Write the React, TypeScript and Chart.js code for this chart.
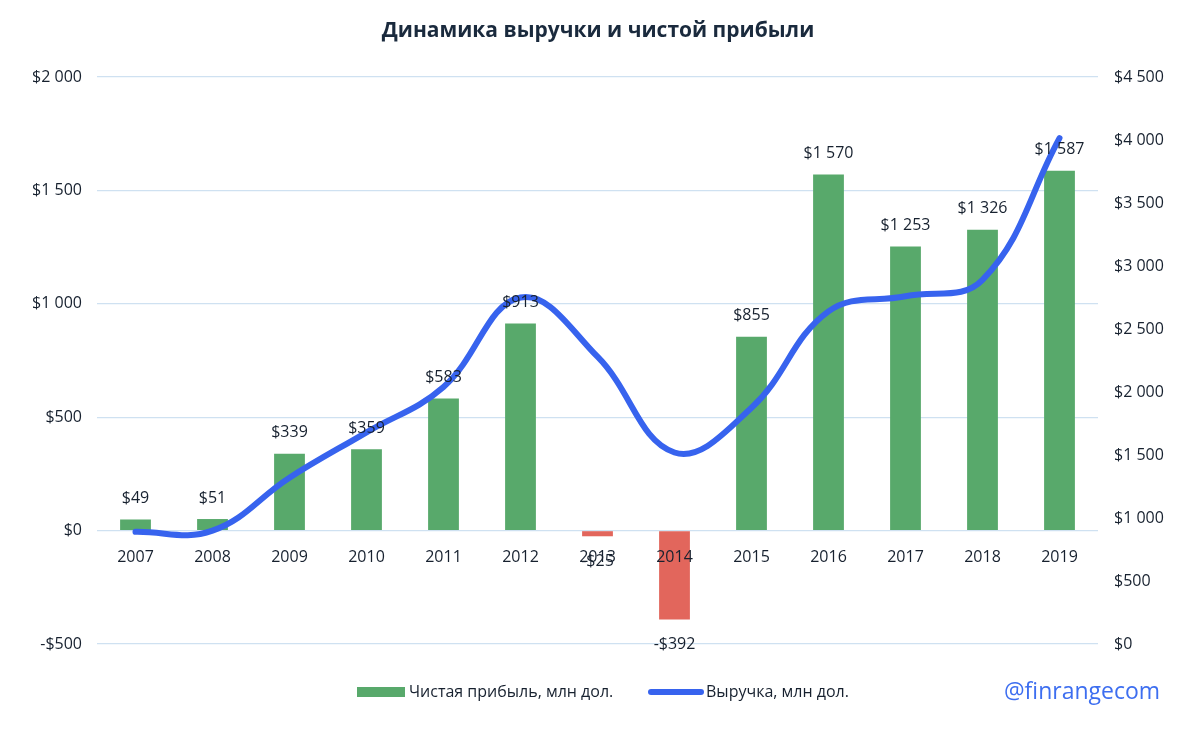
import React, { useEffect, useRef } from 'react';
import { Chart, registerables } from 'chart.js';

Chart.register(...registerables);

const years = ['2007', '2008', '2009', '2010', '2011', '2012', '2013', '2014', '2015', '2016', '2017', '2018', '2019'];
const netIncome = [49, 51, 339, 359, 583, 913, -25, -392, 855, 1570, 1253, 1326, 1587];
const revenue = [890, 900, 1320, 1680, 2040, 2750, 2280, 1520, 1875, 2640, 2760, 2890, 4015];
const leftTicks = [-500, 0, 500, 1000, 1500, 2000];
const rightTicks = [0, 500, 1000, 1500, 2000, 2500, 3000, 3500, 4000, 4500];
const titleText = 'Динамика выручки и чистой прибыли';
const netIncomeLabel = 'Чистая прибыль, млн дол.';
const revenueLabel = 'Выручка, млн дол.';
const watermark = '@finrangecom';

const GREEN = '#58a96b';
const RED = '#e2665c';
const BLUE = '#3763ee';
const GRID = '#cfe1f1';
const TEXT = '#17212f';
const FONT = '"Open Sans", "Noto Sans", sans-serif';

function fmt(v: number): string {
  const s = Math.abs(v).toString().replace(/\B(?=(\d{3})+(?!\d))/g, ' ');
  return (v < 0 ? '-' : '') + '$' + s;
}

const labelsPlugin = {
  id: 'barLabels',
  afterDatasetsDraw(chart: any) {
    const ctx = chart.ctx;
    const meta = chart.getDatasetMeta(1);
    ctx.save();
    ctx.font = '16px ' + FONT;
    ctx.fillStyle = TEXT;
    ctx.textAlign = 'center';
    ctx.textBaseline = 'middle';
    meta.data.forEach((el: any, i: number) => {
      const v = netIncome[i];
      const y = v >= 0 ? el.y - 21 : el.y + 25;
      ctx.fillText(fmt(v), el.x, y);
    });
    ctx.restore();
  },
  afterDraw(chart: any) {
    const ctx = chart.ctx;
    ctx.save();
    // title
    ctx.font = 'bold 21px ' + FONT;
    ctx.fillStyle = '#1a2a3d';
    ctx.textAlign = 'center';
    ctx.textBaseline = 'middle';
    ctx.fillText(titleText, 598, 31);
    // legend
    const ly = 692;
    ctx.fillStyle = GREEN;
    ctx.fillRect(357, ly - 5, 48, 10);
    ctx.font = '16px ' + FONT;
    ctx.fillStyle = TEXT;
    ctx.textAlign = 'left';
    ctx.fillText(netIncomeLabel, 409, ly);
    ctx.strokeStyle = BLUE;
    ctx.lineWidth = 6;
    ctx.lineCap = 'round';
    ctx.beginPath();
    ctx.moveTo(651, ly);
    ctx.lineTo(701, ly);
    ctx.stroke();
    ctx.fillText(revenueLabel, 706, ly);
    // watermark
    ctx.font = '500 23px ' + FONT;
    ctx.fillStyle = '#3d6ef0';
    ctx.fillText(watermark, 1004, ly);
    ctx.restore();
  },
};

export default function App() {
  const ref = useRef<HTMLCanvasElement | null>(null);
  useEffect(() => {
    if (!ref.current) return;
    const chart = new Chart(ref.current, {
      type: 'bar',
      data: {
        labels: years,
        datasets: [
          {
            type: 'line',
            label: revenueLabel,
            data: revenue,
            yAxisID: 'y1',
            borderColor: BLUE,
            backgroundColor: BLUE,
            borderWidth: 6,
            tension: 0.4,
            pointRadius: 0,
            borderCapStyle: 'round',
            fill: false,
            order: 0,
          } as any,
          {
            type: 'bar',
            label: netIncomeLabel,
            data: netIncome,
            yAxisID: 'y',
            backgroundColor: netIncome.map((v) => (v < 0 ? RED : GREEN)),
            barPercentage: 0.4,
            categoryPercentage: 1,
            order: 1,
          } as any,
        ],
      },
      options: {
        responsive: false,
        animation: false,
        layout: { padding: { top: 77, bottom: 90, left: 0, right: 0 } },
        plugins: {
          legend: { display: false },
          tooltip: { enabled: false },
          title: { display: false },
        },
        scales: {
          x: {
            position: { y: 0 } as any,
            grid: { display: false, drawTicks: false },
            border: { display: false },
            ticks: { z: 1, color: TEXT, font: { family: FONT, size: 16 }, padding: 17, maxRotation: 0 },
          },
          y: {
            position: 'left',
            min: -500,
            max: 2000,
            afterBuildTicks: (s: any) => {
              s.ticks = leftTicks.map((v) => ({ value: v }));
            },
            afterFit: (s: any) => {
              s.width = 97;
            },
            grid: { color: GRID, lineWidth: 1.2, drawTicks: false },
            border: { display: false },
            ticks: { color: TEXT, font: { family: FONT, size: 16 }, padding: 15, callback: (v: any) => fmt(Number(v)) },
          },
          y1: {
            position: 'right',
            min: 0,
            max: 4500,
            afterBuildTicks: (s: any) => {
              s.ticks = rightTicks.map((v) => ({ value: v }));
            },
            afterFit: (s: any) => {
              s.width = 102;
            },
            grid: { display: false, drawTicks: false },
            border: { display: false },
            ticks: { color: TEXT, font: { family: FONT, size: 16 }, padding: 16, callback: (v: any) => fmt(Number(v)) },
          },
        },
      } as any,
      plugins: [labelsPlugin],
    });
    return () => chart.destroy();
  }, []);
  return (
    <div style={{ position: 'absolute', left: 0, top: 0, width: 1200, height: 734, background: '#fff' }}>
      <canvas ref={ref} width={1200} height={734} />
    </div>
  );
}
